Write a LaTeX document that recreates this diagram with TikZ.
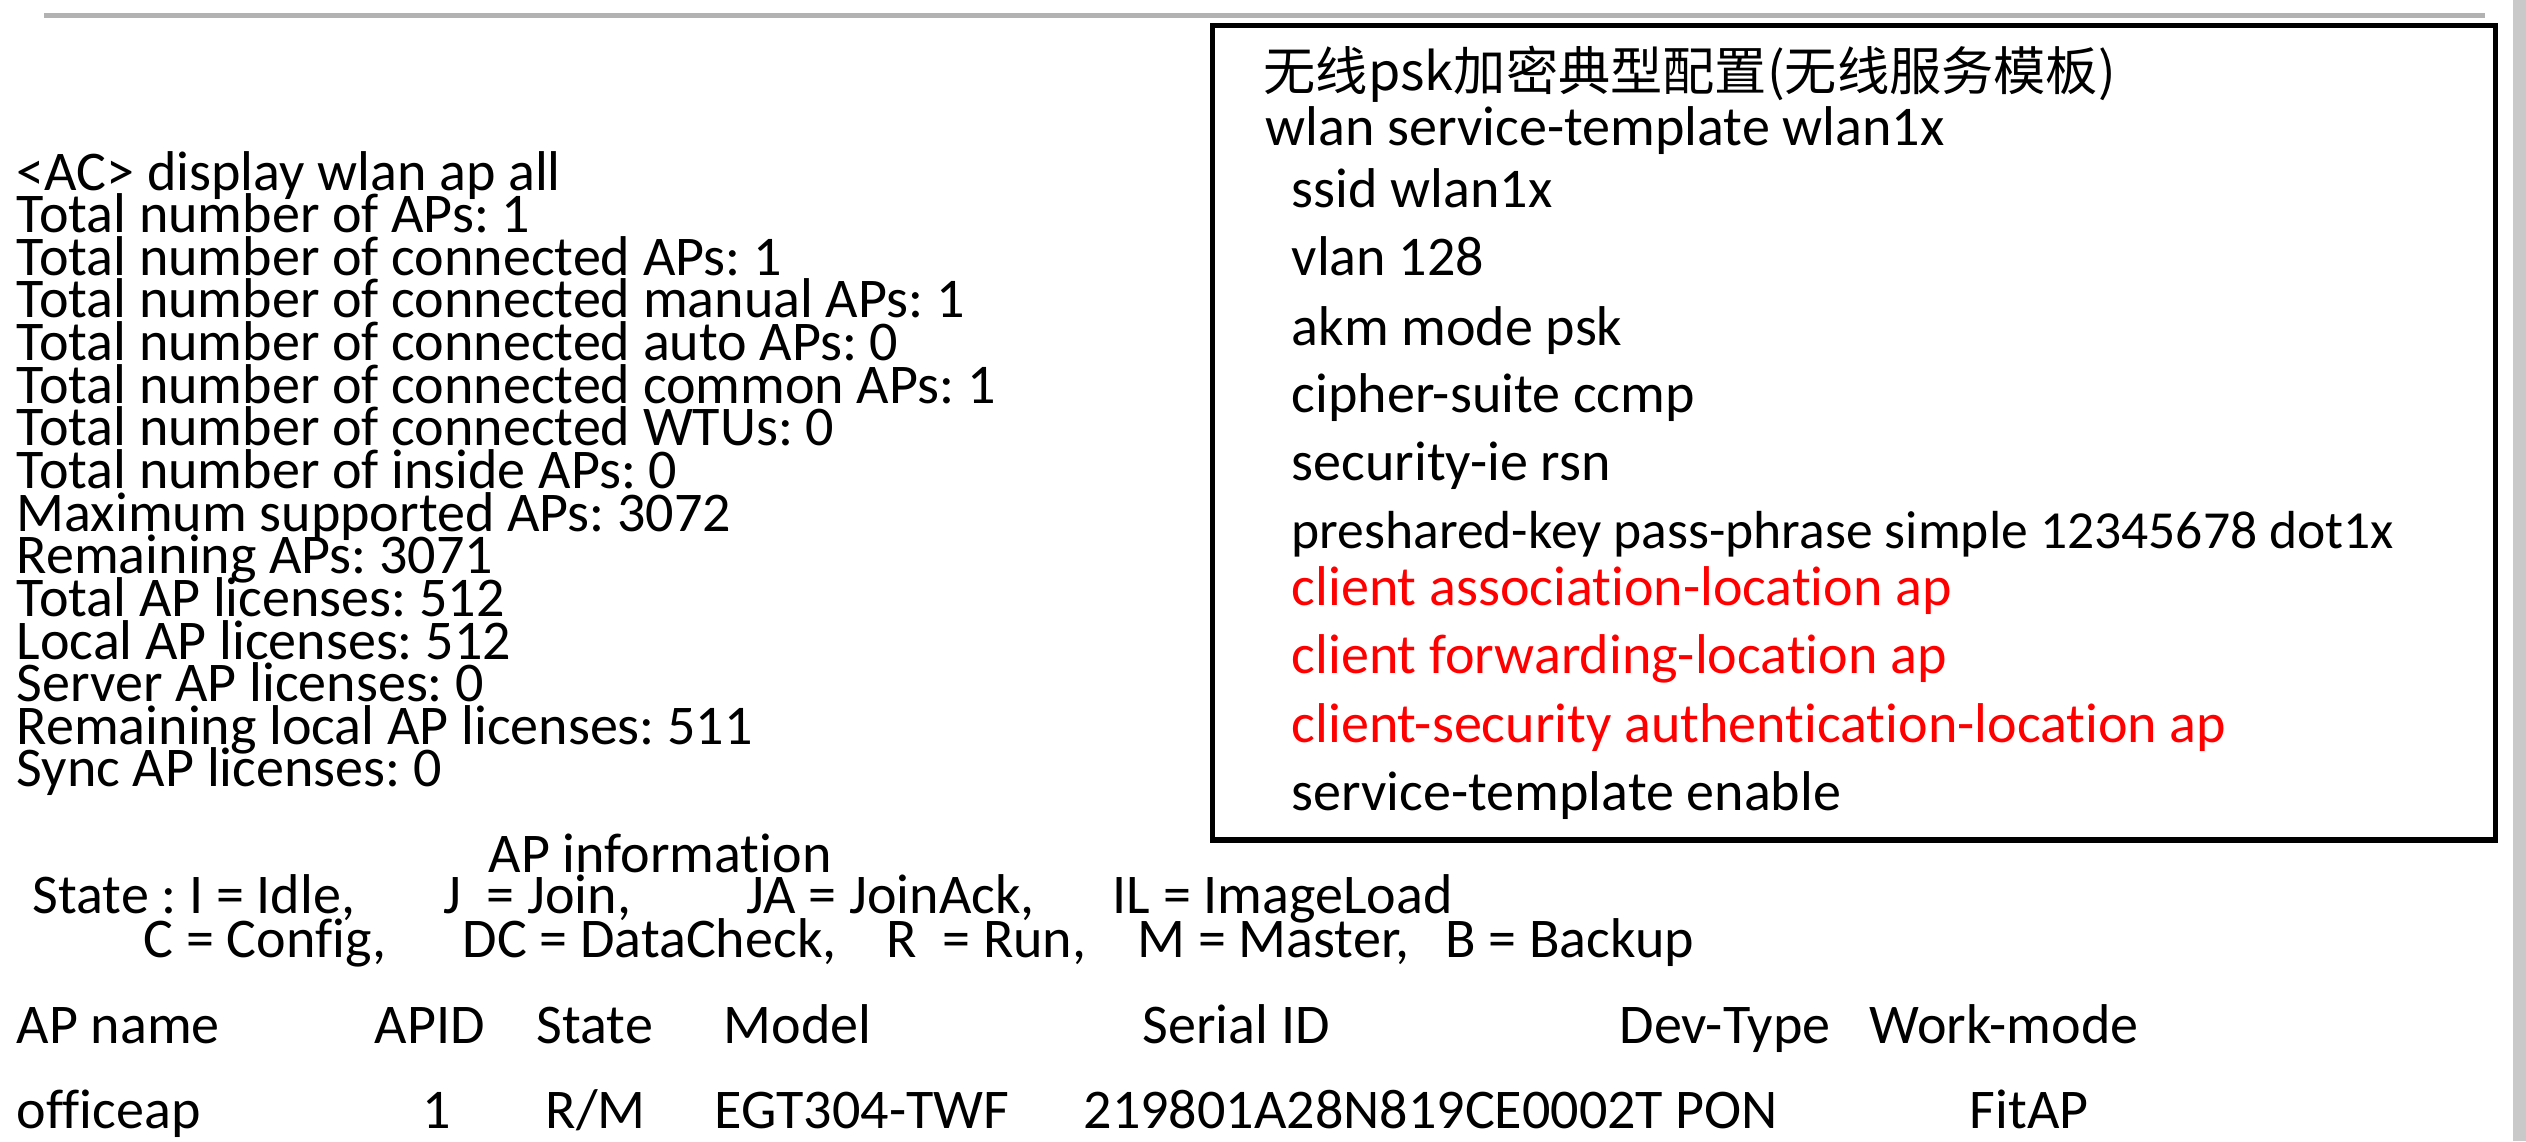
\documentclass[tikz,border=0pt]{standalone}
\usepackage{fontspec}
\setmainfont{Carlito}[Ligatures=NoCommon]
\newfontfamily\cjk{Noto Sans CJK SC}
\frenchspacing

\begin{document}
\begin{tikzpicture}[x=0.01cm,y=-0.01cm]
                \tikzstyle{txt}=[anchor=base west, inner sep=0pt, font=\fontsize{15.94}{19}\selectfont]
                \tikzstyle{hot}=[txt, text=red]

                \useasboundingbox (0,0) rectangle (2526,1141);
                \fill[black!30] (44,12.7) rectangle (2485,18.3);
                \fill[black!21] (2513,0) rectangle (2526,1141);

                % display wlan ap all
                \foreach \t [count=\i from 0] in {<AC> display wlan ap all, Total number of APs: 1,
                    Total number of connected APs: 1, Total number of connected manual APs: 1,
                    Total number of connected auto APs: 0, Total number of connected common APs: 1,
                    Total number of connected WTUs: 0, Total number of inside APs: 0,
                    Maximum supported APs: 3072, Remaining APs: 3071, Total AP licenses: 512,
                    Local AP licenses: 512, Server AP licenses: 0, Remaining local AP licenses: 511,
                    Sync AP licenses: 0}
                    \node[txt] (l\i) at (16,190+42.64*\i) {\t};

                % config box
                \draw[line width=0.056cm] (1212.5,25.5) rectangle (2495.5,840);
                \node[txt, font=\cjk\fontsize{14.85}{19}\selectfont] (title) at (1263,90) {无线psk加密典型配置(无线服务模板)};
                \node[txt] (tmpl) at (1265,145) {wlan service-template wlan1x};
                \node[txt] (ssid) at (1291,207) {ssid wlan1x};
                \node[txt] (vlan) at (1291,275) {vlan 128};
                \node[txt] (akm) at (1291,345) {akm mode psk};
                \node[txt] (ciph) at (1291,412) {cipher-suite ccmp};
                \node[txt] (sec) at (1291,480) {security-ie rsn};
                \node[txt, font=\fontsize{15.23}{19}\selectfont] (psk) at (1291,548) {preshared-key pass-phrase simple 12345678 dot1x};
                \node[hot] (assoc) at (1291,605) {client association-location ap};
                \node[hot] (fwd) at (1291,673) {client forwarding-location ap};
                \node[hot] (auth) at (1291,742) {client-security authentication-location ap};
                \node[txt] (en) at (1291,810) {service-template enable};

                % AP information
                \node[txt] (info) at (488,872) {AP information};
                \foreach \x/\t [count=\i] in {32/{State : I = Idle,}, 443/{J\ \ = Join,},
                    746/{JA = JoinAck,}, 1112/{IL = ImageLoad}}
                    \node[txt] (s\i) at (\x,913) {\t};
                \foreach \x/\t [count=\i] in {143/{C = Config,}, 462/{DC = DataCheck,},
                    886/{R\ \ = Run,}, 1137/{M = Master,}, 1445/{B = Backup}}
                    \node[txt] (c\i) at (\x,957) {\t};

                % table
                \foreach \x/\t [count=\i] in {16/AP name, 374/APID, 536/State, 723/Model,
                    1142/Serial ID, 1619/Dev-Type, 1869/Work-mode}
                    \node[txt] (h\i) at (\x,1043) {\t};
                \foreach \x/\t [count=\i] in {16/officeap, 422/1, 545/R\slash M, 714/EGT304-TWF,
                    1083/219801A28N819CE0002T PON, 1969/FitAP}
                    \node[txt] (r\i) at (\x,1128) {\t};
            \end{tikzpicture}
\end{document}
